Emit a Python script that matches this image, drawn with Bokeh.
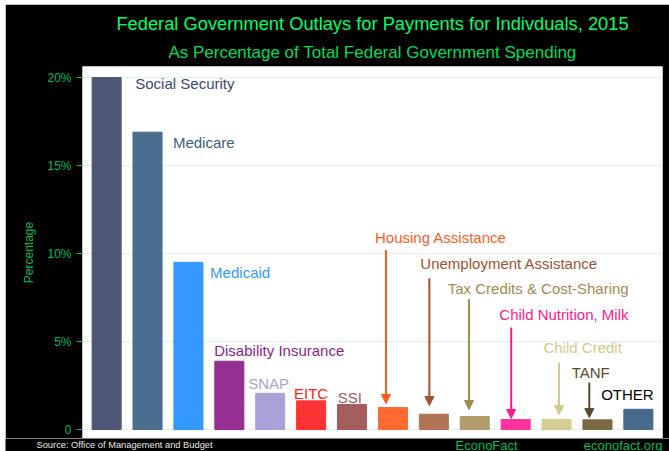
from bokeh.plotting import figure
from bokeh.models import (Range1d, FixedTicker, Label, Arrow, NormalHead, Title,
                          ColumnDataSource)
from bokeh.layouts import column, row
from bokeh.embed import file_html
from bokeh.resources import INLINE

# ---- data ----
categories = ["Social Security", "Medicare", "Medicaid", "Disability Insurance", "SNAP",
              "EITC", "SSI", "Housing Assistance", "Unemployment Assistance",
              "Tax Credits & Cost-Sharing", "Child Nutrition, Milk", "Child Credit",
              "TANF", "OTHER"]
values = [20.0, 16.9, 9.5, 3.88, 2.06, 1.63, 1.42, 1.25, 0.87, 0.74, 0.57, 0.57, 0.55, 1.15]
bar_colors = ["#4d5775", "#4a6f8e", "#3399ff", "#963092", "#a8a2d8", "#ff3333", "#a35d5d",
              "#ff6a33", "#b07356", "#b09d6a", "#ff3399", "#d6cd95", "#7b6944", "#466a8c"]
label_colors = ["#3d4a6b", "#3e5f82", "#3399ff", "#8b1f8b", "#a8a2d8", "#ff2020", "#a05a5a",
                "#ff5a1e", "#a0522d", "#a08c50", "#ff1a8c", "#d4c98a", "#5a4a2a", "#000000"]
y_ticks = [0, 5, 10, 15, 20]
y_tick_labels = ["0", "5%", "10%", "15%", "20%"]

# ---- layout (label positions, data units) ----
label_x = [0.70, 1.62, 2.53, 2.63, 3.46, 4.58, 5.65, 6.56, 7.67, 8.34, 9.60, 10.68, 11.37, 12.09]
label_y = [19.66, 16.3, 8.92, 4.49, 2.6, 2.03, 1.8, 10.93, 9.41, 8.03, 6.53, 4.64, 3.26, 1.99]
# arrows: (category index, x, y_start, y_end)
arrows = [(7, 6.83, 10.2, 1.48), (8, 7.89, 8.6, 1.36), (9, 8.86, 7.4, 1.14),
          (10, 9.89, 5.8, 0.63), (11, 11.06, 3.8, 0.85), (12, 11.8, 2.67, 0.68)]

FONT = "Liberation Sans"
GREEN_T = "#00ff66"
GREEN_S = "#00dd55"
GREEN_A = "#00bb55"

W = 664
p = figure(width=W, height=434, output_backend="svg", toolbar_location=None,
           x_range=Range1d(-0.59, 13.59), y_range=Range1d(-0.51, 20.63),
           min_border_left=77, min_border_right=7, min_border_top=62, min_border_bottom=0)
p.border_fill_color = "black"
p.background_fill_color = "white"
p.outline_line_color = None

p.add_layout(Title(text="As Percentage of Total Federal Government Spending",
                   text_color=GREEN_S, text_font=FONT, text_font_size="17px",
                   text_font_style="normal", align="center", standoff=9), "above")
p.add_layout(Title(text="Federal Government Outlays for Payments for Indivduals, 2015",
                   text_color=GREEN_T, text_font=FONT, text_font_size="18.3px",
                   text_font_style="normal", align="center", standoff=5), "above")

src = ColumnDataSource(dict(x=list(range(len(categories))), top=values, color=bar_colors,
                            name=categories))
p.vbar(x="x", top="top", width=0.71, bottom=0, fill_color="color", line_color="color",
       source=src)

p.xaxis.visible = False
p.xgrid.visible = False
p.ygrid.ticker = FixedTicker(ticks=y_ticks)
p.ygrid.grid_line_color = "#e6eff2"
p.ygrid.grid_line_width = 1.5

ya = p.yaxis[0]
ya.ticker = FixedTicker(ticks=y_ticks)
ya.major_label_overrides = {t: l for t, l in zip(y_ticks, y_tick_labels)}
ya.axis_line_color = None
ya.major_tick_in = 0
ya.major_tick_out = 6
ya.major_tick_line_color = GREEN_A
ya.minor_tick_line_color = None
ya.major_label_text_color = GREEN_A
ya.major_label_text_font = FONT
ya.major_label_text_font_size = "12px"
ya.major_label_standoff = 5
ya.axis_label = "Percentage"
ya.axis_label_text_color = GREEN_A
ya.axis_label_text_font = FONT
ya.axis_label_text_font_size = "12px"
ya.axis_label_text_font_style = "normal"
ya.axis_label_standoff = 8

for i, name in enumerate(categories):
    p.add_layout(Label(x=label_x[i], y=label_y[i], text=name, text_color=label_colors[i],
                       text_font=FONT, text_font_size="15px", text_align="left",
                       text_baseline="middle"))

for idx, ax, y0, y1 in arrows:
    c = label_colors[idx]
    p.add_layout(Arrow(x_start=ax, y_start=y0, x_end=ax, y_end=y1, line_color=c, line_width=2,
                       end=NormalHead(size=9, fill_color=c, line_color=c)))

# ---- footer strip ----
FH = 13
f = figure(width=W, height=FH, output_backend="svg", toolbar_location=None,
           x_range=Range1d(0, W), y_range=Range1d(0, FH),
           min_border_left=0, min_border_right=0, min_border_top=0, min_border_bottom=0)
f.axis.visible = False
f.grid.visible = False
f.outline_line_color = None
f.border_fill_color = "black"
f.background_fill_color = "black"
f.add_layout(Label(x=31, y=6.5, text="Source: Office of Management and Budget",
                   text_color="#e8e8e8", text_font=FONT, text_font_size="9.3px",
                   text_align="left", text_baseline="middle"))
f.add_layout(Label(x=450, y=6.5, text="EconoFact", text_color=GREEN_A,
                   text_font=FONT, text_font_size="13px", text_align="left",
                   text_baseline="middle"))
f.add_layout(Label(x=657, y=6.5, text="econofact.org", text_color=GREEN_A,
                   text_font=FONT, text_font_size="13px", text_align="right",
                   text_baseline="middle"))

layout = column(p, row(f), spacing=0)
layout.margin = (4, 0, 0, 5)

open("out.html", "w").write(file_html(layout, INLINE))
